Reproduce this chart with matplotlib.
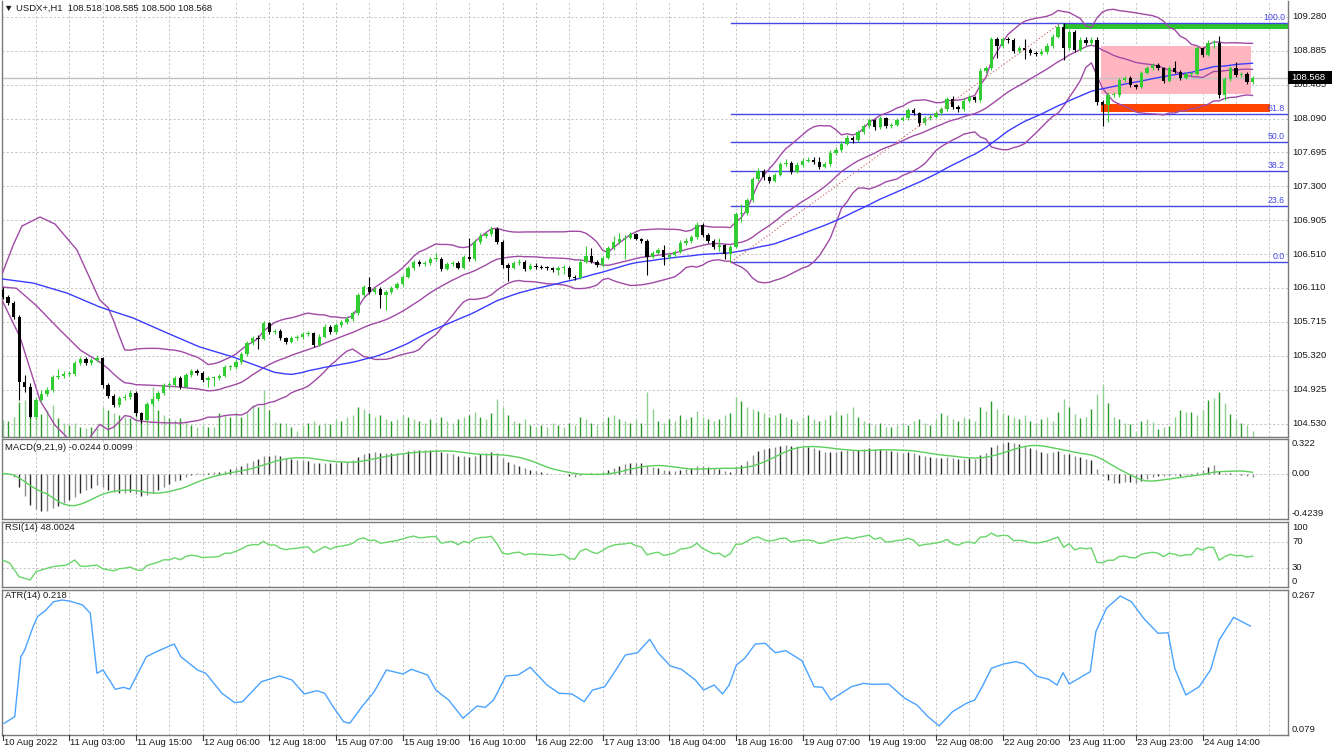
import numpy as np
import pandas as pd
import matplotlib
matplotlib.use("Agg")
import matplotlib.pyplot as plt
from matplotlib.transforms import blended_transform_factory as btf
from matplotlib.patches import Rectangle
from matplotlib.lines import Line2D

plt.rcParams['font.family'] = ['Liberation Sans', 'DejaVu Sans']

# ---------------- data ----------------
symbol_title = "\u25bc USDX+,H1  108.518 108.585 108.500 108.568"
first_open = 106.090
closes = [
    106.011, 105.941, 105.778, 105.018, 104.960, 104.610, 104.805, 104.875, 104.922, 105.070,
    105.085, 105.110, 105.110, 105.233, 105.280, 105.233, 105.270, 105.290, 104.980, 104.855,
    104.745, 104.824, 104.843, 104.883, 104.649, 104.570, 104.754, 104.816, 104.883, 104.980,
    104.980, 105.058, 104.960, 105.095, 105.147, 105.117, 105.038, 105.058, 105.058, 105.085,
    105.187, 105.187, 105.253, 105.342, 105.467, 105.526, 105.520, 105.700, 105.603, 105.610,
    105.526, 105.486, 105.526, 105.537, 105.572, 105.584, 105.447, 105.544, 105.661, 105.595,
    105.680, 105.712, 105.750, 105.817, 106.030, 106.128, 106.063, 106.101, 106.030, 106.063,
    106.117, 106.156, 106.245, 106.343, 106.420, 106.390, 106.400, 106.454, 106.454, 106.335,
    106.390, 106.410, 106.350, 106.480, 106.454, 106.654, 106.724, 106.740, 106.802, 106.654,
    106.380, 106.350, 106.400, 106.420, 106.335, 106.374, 106.358, 106.350, 106.343, 106.323,
    106.343, 106.350, 106.245, 106.233, 106.420, 106.490, 106.420, 106.380, 106.467, 106.577,
    106.654, 106.686, 106.700, 106.740, 106.686, 106.662, 106.480, 106.525, 106.553, 106.472,
    106.498, 106.537, 106.642, 106.665, 106.705, 106.849, 106.732, 106.665, 106.595, 106.615,
    106.510, 106.595, 106.977, 106.985, 107.141, 107.383, 107.483, 107.406, 107.367, 107.433,
    107.562, 107.577, 107.472, 107.550, 107.600, 107.608, 107.589, 107.530, 107.562, 107.694,
    107.725, 107.800, 107.870, 107.840, 107.930, 108.000, 108.070, 107.990, 108.095, 108.000,
    108.017, 108.076, 108.095, 108.192, 108.154, 108.037, 108.095, 108.114, 108.154, 108.200,
    108.317, 108.231, 108.200, 108.300, 108.340, 108.309, 108.652, 108.680, 109.018, 108.940,
    109.018, 109.010, 108.885, 108.913, 108.893, 108.855, 108.847, 108.873, 108.940, 109.049,
    109.166, 108.913, 109.107, 108.893, 109.010, 108.972, 109.010, 108.290, 108.250, 108.368,
    108.368, 108.543, 108.563, 108.484, 108.465, 108.628, 108.680, 108.718, 108.680, 108.535,
    108.680, 108.640, 108.563, 108.613, 108.613, 108.913, 108.835, 108.980, 108.980, 108.368,
    108.551, 108.680, 108.601, 108.613, 108.523, 108.568]
highs = [
    106.12, 106.03, 105.96, 105.80, 105.10, 105.00, 104.84, 104.92, 104.96, 105.10,
    105.17, 105.14, 105.14, 105.26, 105.31, 105.31, 105.30, 105.33, 105.31, 105.00,
    104.88, 104.85, 104.88, 104.92, 104.91, 104.67, 104.78, 104.85, 104.91, 105.00,
    105.02, 105.09, 105.08, 105.12, 105.17, 105.17, 105.14, 105.08, 105.08, 105.11,
    105.21, 105.21, 105.28, 105.37, 105.49, 105.55, 105.56, 105.73, 105.72, 105.63,
    105.63, 105.54, 105.55, 105.56, 105.60, 105.61, 105.60, 105.57, 105.69, 105.68,
    105.70, 105.74, 105.78, 105.84, 106.06, 106.15, 106.24, 106.13, 106.12, 106.09,
    106.14, 106.18, 106.27, 106.37, 106.44, 106.44, 106.43, 106.48, 106.52, 106.47,
    106.42, 106.43, 106.43, 106.50, 106.70, 106.68, 106.75, 106.77, 106.84, 106.83,
    106.67, 106.40, 106.43, 106.45, 106.44, 106.40, 106.40, 106.38, 106.37, 106.36,
    106.37, 106.38, 106.37, 106.27, 106.45, 106.60, 106.58, 106.44, 106.49, 106.60,
    106.72, 106.75, 106.73, 106.77, 106.76, 106.70, 106.68, 106.55, 106.58, 106.62,
    106.52, 106.56, 106.67, 106.70, 106.73, 106.88, 106.87, 106.75, 106.68, 106.70,
    106.63, 106.62, 107.00, 107.10, 107.17, 107.41, 107.51, 107.50, 107.42, 107.46,
    107.59, 107.62, 107.60, 107.58, 107.63, 107.64, 107.64, 107.64, 107.59, 107.72,
    107.76, 107.83, 107.90, 107.89, 107.96, 108.03, 108.10, 108.09, 108.12, 108.11,
    108.04, 108.10, 108.12, 108.22, 108.22, 108.17, 108.12, 108.14, 108.18, 108.23,
    108.34, 108.36, 108.25, 108.33, 108.37, 108.36, 108.68, 108.71, 109.05, 109.04,
    109.05, 109.04, 109.03, 108.94, 109.02, 108.92, 108.88, 108.90, 108.97, 109.08,
    109.209, 109.209, 109.13, 109.13, 109.04, 109.04, 109.04, 109.04, 108.31, 108.40,
    108.40, 108.57, 108.59, 108.59, 108.50, 108.65, 108.71, 108.74, 108.74, 108.70,
    108.71, 108.76, 108.66, 108.64, 108.64, 108.94, 108.93, 109.01, 109.01, 109.057,
    108.58, 108.71, 108.75, 108.64, 108.64, 108.585]
lows = [
    105.99, 105.92, 105.75, 104.80, 104.90, 104.59, 104.58, 104.78, 104.85, 104.90,
    105.05, 105.06, 105.08, 105.09, 105.21, 105.21, 105.21, 105.25, 104.95, 104.83,
    104.72, 104.72, 104.80, 104.82, 104.62, 104.54, 104.55, 104.73, 104.79, 104.86,
    104.95, 104.96, 104.93, 104.94, 105.07, 105.10, 105.01, 104.96, 104.97, 105.04,
    105.07, 105.16, 105.17, 105.23, 105.32, 105.45, 105.40, 105.50, 105.58, 105.58,
    105.50, 105.46, 105.47, 105.51, 105.52, 105.55, 105.42, 105.43, 105.53, 105.57,
    105.58, 105.66, 105.69, 105.73, 105.80, 106.01, 106.04, 106.04, 105.88, 105.86,
    106.04, 106.10, 106.14, 106.23, 106.32, 106.37, 106.37, 106.38, 106.43, 106.31,
    106.32, 106.37, 106.33, 106.33, 106.43, 106.43, 106.63, 106.70, 106.72, 106.63,
    106.35, 106.20, 106.33, 106.38, 106.31, 106.32, 106.34, 106.33, 106.32, 106.30,
    106.26, 106.28, 106.22, 106.21, 106.22, 106.40, 106.40, 106.36, 106.36, 106.45,
    106.56, 106.63, 106.45, 106.68, 106.67, 106.64, 106.27, 106.46, 106.51, 106.38,
    106.45, 106.48, 106.52, 106.62, 106.64, 106.69, 106.71, 106.64, 106.57, 106.54,
    106.45, 106.417, 106.58, 106.88, 106.96, 107.12, 107.36, 107.38, 107.34, 107.35,
    107.42, 107.54, 107.45, 107.46, 107.53, 107.58, 107.56, 107.50, 107.51, 107.54,
    107.67, 107.70, 107.78, 107.81, 107.82, 107.91, 107.98, 107.96, 107.97, 107.98,
    107.98, 108.00, 108.06, 108.08, 108.13, 108.01, 108.02, 108.07, 108.10, 108.13,
    108.18, 108.20, 108.17, 108.18, 108.28, 108.29, 108.29, 108.62, 108.66, 108.80,
    108.92, 108.98, 108.86, 108.86, 108.79, 108.83, 108.82, 108.83, 108.85, 108.92,
    109.03, 108.78, 108.89, 108.87, 108.88, 108.95, 108.95, 108.25, 108.00, 108.05,
    108.34, 108.35, 108.52, 108.46, 108.44, 108.45, 108.61, 108.66, 108.66, 108.51,
    108.52, 108.62, 108.54, 108.55, 108.59, 108.60, 108.81, 108.82, 108.92, 108.33,
    108.31, 108.53, 108.58, 108.58, 108.50, 108.50]
volumes = [
    17, 16, 20, 35, 37, 24, 27, 23, 27, 32,
    19, 14, 12, 14, 10, 9, 10, 9, 30, 27,
    24, 22, 20, 19, 25, 24, 22, 50, 27, 22,
    19, 17, 19, 15, 12, 10, 12, 10, 10, 24,
    22, 20, 25, 20, 24, 32, 30, 47, 27, 15,
    14, 14, 10, 6, 12, 14, 16, 12, 14, 13,
    18, 16, 20, 22, 30, 28, 24, 20, 22, 18,
    16, 18, 22, 20, 18, 16, 14, 18, 15, 20,
    16, 14, 18, 20, 22, 25, 20, 18, 24, 38,
    30, 22, 16, 14, 18, 12, 10, 12, 10, 14,
    12, 10, 14, 12, 20, 18, 14, 12, 16, 20,
    22, 18, 16, 14, 18, 14, 45, 28, 16, 14,
    18, 16, 22, 18, 20, 26, 20, 18, 16, 18,
    22, 24, 40, 36, 30, 28, 26, 24, 20, 22,
    24, 20, 18, 16, 20, 22, 18, 16, 18, 22,
    26, 22, 24, 30, 20, 16, 14, 12, 14, 10,
    10, 12, 14, 12, 16, 18, 14, 12, 18, 24,
    22, 18, 16, 20, 18, 16, 30, 26, 36, 28,
    24, 22, 20, 18, 22, 16, 14, 18, 20,
    16, 25, 38, 30, 23, 19, 20, 28, 43, 52, 34, 20, 18, 14, 13, 5, 16, 18, 15, 8,
    10, 11, 20, 27, 25, 25, 22, 27, 37, 39, 45, 34, 23, 18, 14, 12, 6]

time_labels = ["10 Aug 2022", "11 Aug 03:00", "11 Aug 15:00", "12 Aug 06:00", "12 Aug 18:00",
               "15 Aug 07:00", "15 Aug 19:00", "16 Aug 10:00", "16 Aug 22:00", "17 Aug 13:00",
               "18 Aug 04:00", "18 Aug 16:00", "19 Aug 07:00", "19 Aug 19:00", "22 Aug 08:00",
               "22 Aug 20:00", "23 Aug 11:00", "23 Aug 23:00", "24 Aug 14:00"]
price_labels = ["109.280", "108.885", "108.485", "108.090", "107.695", "107.300", "106.905",
                "106.510", "106.110", "105.715", "105.320", "104.925", "104.530"]
price_grid_top = 109.280
price_grid_step = 0.395833
bid_price = 108.568

bb_upper_lead_bars = [0, 1.9, 3.5, 6.75, 9.45, 13.4, 17.5]
bb_upper_lead = [106.288, 106.61, 106.837, 106.942, 106.86, 106.557, 105.973]
bb_mid_lead_bars = [0, 2.5, 6, 10, 14, 17.5]
bb_mid_lead = [106.124, 106.11, 105.913, 105.645, 105.388, 105.248]
bb_lower_lead_bars = [0, 3.15, 6.75, 9.45, 11.6, 14, 17.5]
bb_lower_lead = [105.96, 105.54, 104.80, 104.51, 104.37, 104.22, 104.52]
ma_lead_bars = [0, 5.5, 11.6, 17.5, 23.5, 29.6, 35.5, 41.5]
ma_lead = [106.218, 106.171, 106.054, 105.891, 105.763, 105.588, 105.424, 105.307]
rsi_lead_bars = [0, 1.3, 3, 5, 6, 7, 9, 11.5, 13]
rsi_lead = [41.5, 36.9, 15.8, 10.8, 23.5, 26.2, 31.2, 33.8, 41.5]

atr_bars = [0.3, 2.2, 3.3, 4.0, 5.5, 6.3, 7.7, 9.2, 10.7, 12.1, 14.4, 15.8, 17.0, 18.1, 20.3, 21.8,
            22.9, 25.9, 27.7, 30.9, 32.1, 35.1, 36.6, 39.5, 41.8, 43.2, 46.6, 49.9, 52.1, 54.3,
            56.6, 58.0, 59.5, 61.4, 62.5, 64.7, 66.9, 69.1, 72.1, 73.6, 76.5, 78.0, 80.3, 82.9,
            85.4, 86.9, 88.4, 90.6, 92.8, 95.0, 98.0, 100.2, 102.5, 104.7, 106.2, 108.4, 110.6,
            112.1, 114.3, 116.5, 118.0, 120.2, 122.2, 124.7, 126.2, 128.1, 129.6, 130.8, 132.1,
            133.6, 135.5, 137.3, 139.1, 141.0, 143.9, 146.1, 147.6, 149.1, 152.8, 155.0, 156.5,
            159.5, 162.4, 164.6, 166.6, 168.6, 171.0, 173.5, 175.0, 176.5, 178.0, 180.2, 182.4,
            183.9, 186.1, 188.3, 189.8, 190.9, 192.0, 195.8, 196.8, 198.7, 201.2, 203.2, 205.4,
            208.0, 209.8, 211.0, 213.0, 215.4, 217.5, 219.0, 221.6, 224.6]
atr_values = [0.0942, 0.1027, 0.1805, 0.1892, 0.2194, 0.2324, 0.2402, 0.2518, 0.2540, 0.2527,
              0.2476, 0.2368, 0.1590, 0.1633, 0.1383, 0.1408, 0.1383, 0.1805, 0.1870, 0.1970,
              0.1805, 0.1633, 0.1590, 0.1331, 0.1209, 0.1222, 0.1481, 0.1555, 0.1503, 0.1322,
              0.1364, 0.1331, 0.1157, 0.0962, 0.0942, 0.1157, 0.1351, 0.1633, 0.1581, 0.1642,
              0.1568, 0.1373, 0.1244, 0.1007, 0.1166, 0.1149, 0.1244, 0.1555, 0.1568, 0.1668,
              0.1438, 0.1331, 0.1322, 0.1222, 0.1373, 0.1416, 0.1655, 0.1827, 0.1857, 0.2031,
              0.1857, 0.1685, 0.1642, 0.1503, 0.1373, 0.1438, 0.1322, 0.1438, 0.1698, 0.1784,
              0.1970, 0.1979, 0.1857, 0.1883, 0.1753, 0.1416, 0.1408, 0.1244, 0.1416, 0.1460,
              0.1447, 0.1451, 0.1266, 0.1179, 0.1027, 0.0907, 0.1092, 0.1201, 0.1244, 0.1438,
              0.1655, 0.1711, 0.1740, 0.1711, 0.1555, 0.1512, 0.1438, 0.1598, 0.1451, 0.1611,
              0.2129, 0.2433, 0.2592, 0.2518, 0.2303, 0.2109, 0.2116, 0.1655, 0.1309, 0.1416,
              0.1642, 0.2022, 0.2316, 0.2203]

fib_low, fib_high = 106.417, 109.209
fib_levels = [0.0, 23.6, 38.2, 50.0, 61.8, 100.0]
fib_start_bar, fib_end_bar = 131.2, 190.5
green_zone = (190.9, 109.142, 109.212)      # start bar, low, high (extends right)
pink_zone = (197.8, 224.8, 108.383, 108.944)
orange_zone = (197.8, 228.1, 108.165, 108.262)

macd_text = "MACD(9,21,9) -0.0244 0.0099"
rsi_text = "RSI(14) 48.0024"
atr_text = "ATR(14) 0.218"

# ---------------- computations ----------------
n = len(closes)
c = np.array(closes)
o = np.array([first_open] + closes[:-1])
hi = np.array(highs)
lo = np.array(lows)
xb = np.arange(n)
cs = pd.Series(c)

bb_mid = cs.rolling(20).mean()
bb_sd = cs.rolling(20).std(ddof=0)
bb_up = bb_mid + 2 * bb_sd
bb_lo = bb_mid - 2 * bb_sd
ma50 = cs.rolling(50).mean()

ema_f = cs.ewm(span=9, adjust=False).mean()
ema_s = cs.ewm(span=21, adjust=False).mean()
macd = (ema_f - ema_s).values
signal = pd.Series(macd).rolling(9, min_periods=1).mean().values

d = np.diff(c, prepend=c[0])
gain = np.clip(d, 0, None)
loss = np.clip(-d, 0, None)
ag = np.full(n, np.nan)
al = np.full(n, np.nan)
ag[14] = gain[1:15].mean()
al[14] = loss[1:15].mean()
for i in range(15, n):
    ag[i] = (ag[i - 1] * 13 + gain[i]) / 14
    al[i] = (al[i - 1] * 13 + loss[i]) / 14
rsi = 100 - 100 / (1 + ag / al)

# ---------------- layout ----------------
W, H, DPI = 1332, 750, 100
fig = plt.figure(figsize=(W / DPI, H / DPI), dpi=DPI)
fig.patch.set_facecolor("white")
L, R = 2, 1288
X0, DX = 2.5, 5.5556
XL = ((L - X0) / DX, (R - X0) / DX)
GRID = "#c4c4c4"
FS = 6.8


def panel(top, bottom):
    ax = fig.add_axes([L / W, 1 - bottom / H, (R - L) / W, (bottom - top) / H])
    ax.set_xlim(*XL)
    ax.set_xticks([])
    ax.set_yticks([])
    ax.set_facecolor("white")
    for s in ax.spines.values():
        s.set_color("#7a7a7a")
        s.set_linewidth(1.0)
    for gb in range(6, 232, 6):
        ax.axvline(gb, color=GRID, lw=0.7, ls=(0, (2.2, 2.2)), zorder=0.5)
    return ax


def ftext(xpx, ypx, s, **kw):
    kw.setdefault("fontsize", FS)
    kw.setdefault("color", "#1a1a1a")
    kw.setdefault("va", "center")
    fig.text(xpx / W, 1 - ypx / H, s, **kw)


def phase_dark(i):
    f = (X0 + i * DX) % 1.0
    return f < 0.5

# ---- main panel ----
ax = panel(1, 437)
ax.spines["top"].set_visible(False)
ax.set_ylim(104.3723, 109.4657)
for k in range(len(price_labels)):
    p = price_grid_top - k * price_grid_step
    ax.axhline(p, color=GRID, lw=0.7, ls=(0, (2.2, 2.2)), zorder=0.5)
    ax.text(1.0031, p, price_labels[k], transform=btf(ax.transAxes, ax.transData),
            fontsize=FS, va="center", ha="left", color="#1a1a1a", clip_on=False)

# zones
ax.add_patch(Rectangle((pink_zone[0], pink_zone[2]), pink_zone[1] - pink_zone[0],
                       pink_zone[3] - pink_zone[2], facecolor="#ffb6c1", edgecolor="none", zorder=1))
ax.add_patch(Rectangle((orange_zone[0], orange_zone[2]), orange_zone[1] - orange_zone[0],
                       orange_zone[3] - orange_zone[2], facecolor="#ff4500", edgecolor="none", zorder=1))
ax.add_patch(Rectangle((green_zone[0], green_zone[1]), XL[1] - green_zone[0],
                       green_zone[2] - green_zone[1], facecolor="#2bc42b", edgecolor="none", zorder=1))

# bid line
ax.axhline(bid_price, color="#c0c0c0", lw=1.0, zorder=1.5)

# volumes at the bottom of the main window
vol_tr = btf(ax.transData, ax.transAxes)
vcols = ["#2a9a2a" if phase_dark(i) else "#8fcf8f" for i in range(n)]
ax.vlines(xb, 0, np.array(volumes) / 436.0, colors=vcols, lw=1.0, transform=vol_tr, zorder=2)

# fibonacci
rng = fib_high - fib_low
for lev in fib_levels:
    p = fib_low + rng * lev / 100.0
    ax.plot([fib_start_bar, XL[1]], [p, p], color="#4646e6", lw=1.0, zorder=2.5)
    ax.annotate(f"{lev:.1f}", xy=(XL[1], p), xytext=(-3, 1), textcoords="offset pixels",
                ha="right", va="bottom", fontsize=6.3, color="#4646e6", zorder=7)
ax.plot([fib_start_bar, fib_end_bar], [fib_low, fib_high], color="#d05a5a", lw=0.8,
        ls=(0, (1, 2)), zorder=6)

# candles
up = c >= o
bot = np.minimum(o, c)
hgt = np.maximum(np.abs(c - o), 0.012)
GREEN = "#32cd32"
ax.vlines(xb[up], lo[up], hi[up], colors=GREEN, lw=0.8, zorder=4)
ax.vlines(xb[~up], lo[~up], hi[~up], colors="black", lw=0.8, zorder=4)
ax.bar(xb[up], hgt[up], bottom=bot[up], width=0.6, color=GREEN, edgecolor="none", zorder=5)
ax.bar(xb[~up], hgt[~up], bottom=bot[~up], width=0.6, color="black", edgecolor="none", zorder=5)

# bollinger + ma
PURP = "#a04aa6"
bb_x = list(range(19, n))
ax.plot(bb_upper_lead_bars + bb_x, bb_upper_lead + list(bb_up.values[19:]), color=PURP, lw=1.0, zorder=3)
ax.plot(bb_mid_lead_bars + bb_x, bb_mid_lead + list(bb_mid.values[19:]), color=PURP, lw=1.0, zorder=3)
ax.plot(bb_lower_lead_bars + bb_x, bb_lower_lead + list(bb_lo.values[19:]), color=PURP, lw=1.0, zorder=3)
ma_x = list(range(49, n))
ax.plot(ma_lead_bars + ma_x, ma_lead + list(ma50.values[49:]), color="#3c3cff", lw=1.0, zorder=3)

# bid price box
fig.patches.append(Rectangle((1288 / W, 1 - 83.5 / H), 44 / W, 13 / H, transform=fig.transFigure,
                             facecolor="black", edgecolor="none", zorder=10))
ftext(1291, 77, f"{bid_price:.3f}", color="white", zorder=11)
ftext(4, 8, symbol_title)

# ---- MACD ----
axm = panel(439, 519)
axm.set_ylim(-0.4239, 0.322)
axm.axhline(0, color=GRID, lw=0.7, ls=(0, (2.2, 2.2)), zorder=0.5)
mcols = ["#2b2b2b" if phase_dark(i) else "#8c8c8c" for i in range(n)]
axm.vlines(xb, 0, macd, colors=mcols, lw=1.0, zorder=2)
axm.plot(xb, signal, color="#5ccf5c", lw=1.0, zorder=3)
ftext(5, 447, macd_text)
ftext(1292, 444, "0.322")
ftext(1292, 474, "0.00")
ftext(1292, 514, "-0.4239")

# ---- RSI ----
axr = panel(522, 587)
axr.set_ylim(0, 100)
for lv in (70, 30):
    axr.axhline(lv, color=GRID, lw=0.7, ls=(0, (2.2, 2.2)), zorder=0.5)
axr.plot(rsi_lead_bars + list(range(14, n)), rsi_lead + list(rsi[14:]), color="#6ad66a", lw=1.0, zorder=3)
ftext(5, 528, rsi_text)
ftext(1292, 527, "100")
ftext(1292, 542, "70")
ftext(1292, 567, "30")
ftext(1292, 582, "0")

# ---- ATR ----
axa = panel(590, 735)
axa.set_ylim(0.079, 0.267)
axa.plot(atr_bars, atr_values, color="#4aa3ff", lw=1.0, zorder=3)
ftext(5, 596, atr_text)
ftext(1292, 596, "0.267")
ftext(1292, 729, "0.079")

# time axis
for k, lab in enumerate(time_labels):
    px = X0 + 12 * k * DX
    fig.lines.append(Line2D([px / W, px / W], [1 - 735 / H, 1 - 740 / H], transform=fig.transFigure,
                            color="#3a3a3a", lw=0.8))
    ftext(px + 1, 742.5, lab)

fig.savefig("out.png", dpi=DPI, facecolor="white")
